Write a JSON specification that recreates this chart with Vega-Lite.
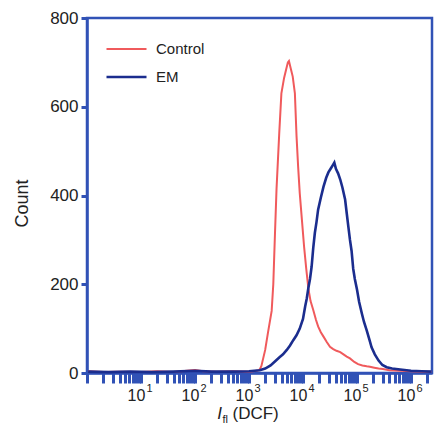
{
  "$schema": "https://vega.github.io/schema/vega-lite/v6.json",
  "width": 345,
  "height": 355,
  "autosize": {"type": "none"},
  "padding": {"left": 87, "top": 18, "right": 8, "bottom": 57},
  "background": "white",
  "config": {
    "font": "Liberation Sans",
    "view": {"stroke": "#3152b6", "strokeWidth": 2.5},
    "axis": {"grid": false}
  },
  "data": {
    "values": [
      {"x": 1.05, "count": 4, "series": "Control"},
      {"x": 2.0, "count": 2, "series": "Control"},
      {"x": 3.98, "count": 3, "series": "Control"},
      {"x": 10, "count": 2, "series": "Control"},
      {"x": 20, "count": 4, "series": "Control"},
      {"x": 39.8, "count": 2, "series": "Control"},
      {"x": 70.8, "count": 5, "series": "Control"},
      {"x": 100, "count": 7, "series": "Control"},
      {"x": 141, "count": 4, "series": "Control"},
      {"x": 251, "count": 3, "series": "Control"},
      {"x": 501, "count": 4, "series": "Control"},
      {"x": 1000, "count": 3, "series": "Control"},
      {"x": 1413, "count": 5, "series": "Control"},
      {"x": 1585, "count": 8, "series": "Control"},
      {"x": 1698, "count": 16, "series": "Control"},
      {"x": 1995, "count": 52, "series": "Control"},
      {"x": 2239, "count": 90, "series": "Control"},
      {"x": 2630, "count": 140, "series": "Control"},
      {"x": 2818, "count": 200, "series": "Control"},
      {"x": 3020, "count": 310, "series": "Control"},
      {"x": 3236, "count": 415, "series": "Control"},
      {"x": 3631, "count": 540, "series": "Control"},
      {"x": 3981, "count": 630, "series": "Control"},
      {"x": 4467, "count": 665, "series": "Control"},
      {"x": 4898, "count": 685, "series": "Control"},
      {"x": 5248, "count": 700, "series": "Control"},
      {"x": 5495, "count": 703, "series": "Control"},
      {"x": 5888, "count": 688, "series": "Control"},
      {"x": 6457, "count": 668, "series": "Control"},
      {"x": 7079, "count": 630, "series": "Control"},
      {"x": 7586, "count": 535, "series": "Control"},
      {"x": 8128, "count": 465, "series": "Control"},
      {"x": 8710, "count": 405, "series": "Control"},
      {"x": 9550, "count": 345, "series": "Control"},
      {"x": 10471, "count": 285, "series": "Control"},
      {"x": 11482, "count": 235, "series": "Control"},
      {"x": 12589, "count": 190, "series": "Control"},
      {"x": 13804, "count": 162, "series": "Control"},
      {"x": 15488, "count": 142, "series": "Control"},
      {"x": 17378, "count": 120, "series": "Control"},
      {"x": 19055, "count": 105, "series": "Control"},
      {"x": 21380, "count": 92, "series": "Control"},
      {"x": 23988, "count": 82, "series": "Control"},
      {"x": 27542, "count": 70, "series": "Control"},
      {"x": 31623, "count": 59, "series": "Control"},
      {"x": 36308, "count": 54, "series": "Control"},
      {"x": 41687, "count": 50, "series": "Control"},
      {"x": 48978, "count": 47, "series": "Control"},
      {"x": 56234, "count": 42, "series": "Control"},
      {"x": 64565, "count": 37, "series": "Control"},
      {"x": 74131, "count": 33, "series": "Control"},
      {"x": 89125, "count": 25, "series": "Control"},
      {"x": 104713, "count": 20, "series": "Control"},
      {"x": 125893, "count": 17, "series": "Control"},
      {"x": 151356, "count": 15, "series": "Control"},
      {"x": 173780, "count": 14, "series": "Control"},
      {"x": 208930, "count": 12, "series": "Control"},
      {"x": 251189, "count": 10, "series": "Control"},
      {"x": 301995, "count": 9, "series": "Control"},
      {"x": 398107, "count": 6, "series": "Control"},
      {"x": 630957, "count": 5, "series": "Control"},
      {"x": 1000000, "count": 4, "series": "Control"},
      {"x": 1584893, "count": 3, "series": "Control"},
      {"x": 2398833, "count": 3, "series": "Control"},
      {"x": 1.05, "count": 3, "series": "EM"},
      {"x": 2.51, "count": 2, "series": "EM"},
      {"x": 6.31, "count": 3, "series": "EM"},
      {"x": 15.85, "count": 2, "series": "EM"},
      {"x": 39.8, "count": 3, "series": "EM"},
      {"x": 100, "count": 5, "series": "EM"},
      {"x": 199.5, "count": 3, "series": "EM"},
      {"x": 501, "count": 3, "series": "EM"},
      {"x": 1000, "count": 4, "series": "EM"},
      {"x": 1585, "count": 6, "series": "EM"},
      {"x": 1995, "count": 10, "series": "EM"},
      {"x": 2512, "count": 17, "series": "EM"},
      {"x": 3020, "count": 26, "series": "EM"},
      {"x": 3631, "count": 35, "series": "EM"},
      {"x": 4266, "count": 42, "series": "EM"},
      {"x": 5012, "count": 52, "series": "EM"},
      {"x": 5754, "count": 62, "series": "EM"},
      {"x": 6607, "count": 74, "series": "EM"},
      {"x": 7586, "count": 85, "series": "EM"},
      {"x": 8710, "count": 100, "series": "EM"},
      {"x": 10000, "count": 122, "series": "EM"},
      {"x": 10965, "count": 150, "series": "EM"},
      {"x": 11749, "count": 168, "series": "EM"},
      {"x": 12589, "count": 192, "series": "EM"},
      {"x": 13490, "count": 212, "series": "EM"},
      {"x": 14454, "count": 240, "series": "EM"},
      {"x": 15488, "count": 282, "series": "EM"},
      {"x": 16596, "count": 316, "series": "EM"},
      {"x": 17783, "count": 340, "series": "EM"},
      {"x": 19055, "count": 368, "series": "EM"},
      {"x": 21380, "count": 395, "series": "EM"},
      {"x": 23988, "count": 420, "series": "EM"},
      {"x": 26915, "count": 440, "series": "EM"},
      {"x": 29512, "count": 452, "series": "EM"},
      {"x": 33113, "count": 462, "series": "EM"},
      {"x": 35481, "count": 468, "series": "EM"},
      {"x": 38019, "count": 474, "series": "EM"},
      {"x": 40738, "count": 460, "series": "EM"},
      {"x": 44668, "count": 450, "series": "EM"},
      {"x": 48978, "count": 436, "series": "EM"},
      {"x": 53703, "count": 418, "series": "EM"},
      {"x": 60256, "count": 391, "series": "EM"},
      {"x": 64565, "count": 360, "series": "EM"},
      {"x": 69183, "count": 330, "series": "EM"},
      {"x": 74131, "count": 300, "series": "EM"},
      {"x": 79433, "count": 275, "series": "EM"},
      {"x": 85114, "count": 235, "series": "EM"},
      {"x": 91201, "count": 212, "series": "EM"},
      {"x": 100000, "count": 188, "series": "EM"},
      {"x": 109648, "count": 160, "series": "EM"},
      {"x": 123027, "count": 134, "series": "EM"},
      {"x": 134896, "count": 115, "series": "EM"},
      {"x": 151356, "count": 96, "series": "EM"},
      {"x": 169824, "count": 75, "series": "EM"},
      {"x": 186209, "count": 58, "series": "EM"},
      {"x": 213796, "count": 42, "series": "EM"},
      {"x": 251189, "count": 28, "series": "EM"},
      {"x": 295121, "count": 18, "series": "EM"},
      {"x": 354813, "count": 13, "series": "EM"},
      {"x": 446684, "count": 10, "series": "EM"},
      {"x": 630957, "count": 8, "series": "EM"},
      {"x": 1000000, "count": 5, "series": "EM"},
      {"x": 1584893, "count": 4, "series": "EM"},
      {"x": 2398833, "count": 3, "series": "EM"}
    ]
  },
  "layer": [
    {
      "mark": {"type": "line", "interpolate": "linear"},
      "encoding": {
        "x": {
          "field": "x",
          "type": "quantitative",
          "scale": {"type": "log", "domain": [1, 2450000], "nice": false, "zero": false},
          "axis": {
            "orient": "bottom",
            "values": [1,2,3,4,5,6,7,8,9,10,20,30,40,50,60,70,80,90,100,200,300,400,500,600,700,800,900,1000,2000,3000,4000,5000,6000,7000,8000,9000,10000,20000,30000,40000,50000,60000,70000,80000,90000,100000,200000,300000,400000,500000,600000,700000,800000,900000,1000000,2000000],
            "labelExpr": "datum.value == 10 || datum.value == 100 || datum.value == 1000 || datum.value == 10000 || datum.value == 100000 || datum.value == 1000000 ? '10' : ''",
            "labelOverlap": false,
            "labelFlush": false,
            "labelFontSize": 16,
            "labelColor": "#222222",
            "labelPadding": 4,
            "labelOffset": -5,
            "domainColor": "#3152b6",
            "domainWidth": 2.5,
            "tickColor": "#3152b6",
            "tickWidth": 3,
            "tickSize": 10,
            "title": "I",
            "titleFontStyle": "italic",
            "titleFontWeight": "normal",
            "titleFontSize": 17,
            "titleColor": "#222222",
            "titleX": 132,
            "titleY": 45,
            "titleAlign": "center",
            "titleBaseline": "alphabetic"
          }
        },
        "y": {
          "field": "count",
          "type": "quantitative",
          "scale": {"domain": [0, 800], "nice": false},
          "axis": {
            "values": [0, 200, 400, 600, 800],
            "labelFontSize": 17,
            "labelColor": "#222222",
            "labelPadding": 3,
            "domainColor": "#3152b6",
            "domainWidth": 2.5,
            "tickColor": "#3152b6",
            "tickWidth": 3,
            "tickSize": 6,
            "title": "Count",
            "titleFontSize": 18,
            "titleFontWeight": "normal",
            "titleColor": "#222222",
            "titleX": -65,
            "titleY": 185,
            "titleAngle": -90,
            "titleAlign": "center",
            "titleBaseline": "middle"
          }
        },
        "color": {
          "field": "series",
          "type": "nominal",
          "scale": {"domain": ["Control", "EM"], "range": ["#f05a5c", "#1b2d8e"]},
          "legend": {
            "title": null,
            "orient": "none",
            "legendX": 18,
            "legendY": 18,
            "padding": 0,
            "symbolType": "stroke",
            "symbolSize": 1600,
            "symbolStrokeWidth": 2.5,
            "clipHeight": 26,
            "rowPadding": 2,
            "labelOffset": 8,
            "labelFontSize": 15,
            "labelColor": "#222222"
          }
        },
        "strokeWidth": {
          "field": "series",
          "type": "nominal",
          "scale": {"domain": ["Control", "EM"], "range": [2, 2.6]},
          "legend": null
        }
      }
    },
    {
      "mark": {"type": "rule", "opacity": 0, "strokeWidth": 0},
      "encoding": {
        "x": {
          "field": "x",
          "type": "quantitative",
          "axis": {
            "orient": "bottom",
            "values": [10, 100, 1000, 10000, 100000, 1000000],
            "labelExpr": "datum.value == 10 ? '1' : datum.value == 100 ? '2' : datum.value == 1000 ? '3' : datum.value == 10000 ? '4' : datum.value == 100000 ? '5' : '6'",
            "labelOverlap": false,
            "labelFlush": false,
            "labelFontSize": 11,
            "labelColor": "#222222",
            "labelOffset": 8,
            "labelPadding": 9,
            "ticks": false,
            "domain": false,
            "title": "fl",
            "titleFontWeight": "normal",
            "titleFontSize": 11,
            "titleColor": "#222222",
            "titleX": 135,
            "titleY": 49,
            "titleAlign": "left",
            "titleBaseline": "alphabetic"
          }
        }
      }
    },
    {
      "mark": {"type": "rule", "opacity": 0, "strokeWidth": 0},
      "encoding": {
        "x": {
          "field": "x",
          "type": "quantitative",
          "axis": {
            "orient": "bottom",
            "labels": false,
            "ticks": false,
            "domain": false,
            "title": "(DCF)",
            "titleFontWeight": "normal",
            "titleFontSize": 17,
            "titleColor": "#222222",
            "titleX": 145,
            "titleY": 45,
            "titleAlign": "left",
            "titleBaseline": "alphabetic"
          }
        }
      }
    }
  ],
  "resolve": {"axis": {"x": "independent"}}
}
